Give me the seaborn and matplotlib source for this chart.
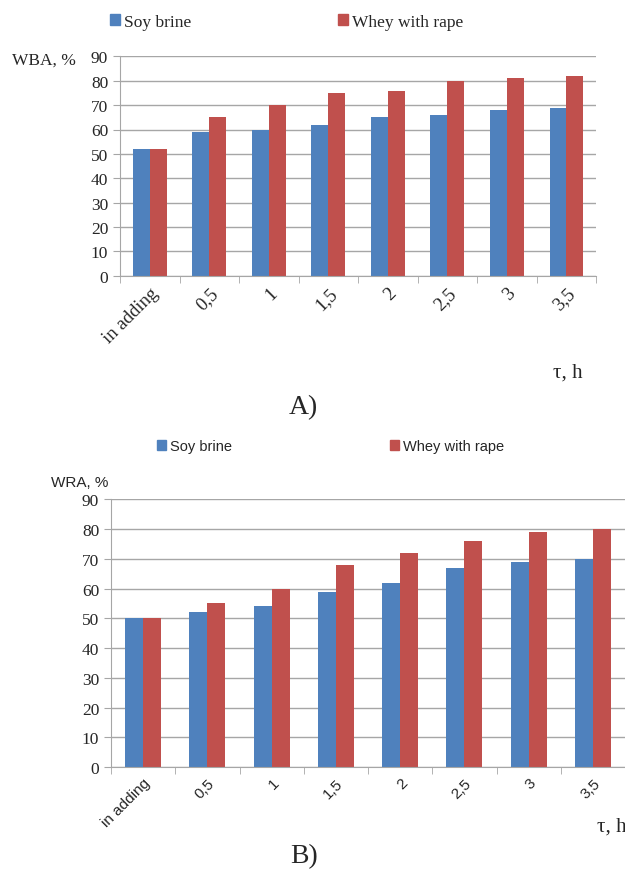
import numpy as np
import pandas as pd
import seaborn as sns
import matplotlib.pyplot as plt

sns.set_style("white")

# data
times = ["in adding", "0,5", "1", "1,5", "2", "2,5", "3", "3,5"]
wba_soy = [52, 59, 60, 62, 65, 66, 68, 69]
wba_whey = [52, 65, 70, 75, 76, 80, 81, 82]
wra_soy = [50, 52, 54, 59, 62, 67, 69, 70]
wra_whey = [50, 55, 60, 68, 72, 76, 79, 80]
series = ["Soy brine", "Whey with rape"]
colors = ["#4F81BD", "#C0504D"]

serif = "Liberation Serif"
sans = "Liberation Sans"


def long_df(soy, whey):
    return pd.DataFrame({
        "time": times * 2,
        "value": soy + whey,
        "series": [series[0]] * len(times) + [series[1]] * len(times),
    })


def style_axes(ax):
    ax.set_ylim(0, 90)
    ax.set_yticks(range(0, 91, 10))
    ax.set_xlim(-0.5, len(times) - 0.5)
    ax.yaxis.grid(True, color="#a6a6a6", linewidth=1)
    ax.set_axisbelow(True)
    for s in ["top", "right"]:
        ax.spines[s].set_visible(False)
    for s in ["left", "bottom"]:
        ax.spines[s].set_color("#a6a6a6")
    ax.set_xlabel("")
    ax.set_ylabel("")
    ax.set_xticks(np.arange(-0.5, len(times), 1), minor=True)
    ax.tick_params(axis="x", which="major", length=0, pad=6)
    ax.tick_params(axis="x", which="minor", length=5, color="#a6a6a6", direction="out", bottom=True)
    ax.tick_params(axis="y", length=5, color="#a6a6a6", direction="out", left=True)
    for lbl in ax.get_yticklabels():
        lbl.set_family(serif)
        lbl.set_fontsize(12.5)
    ax.set_xticks(range(len(times)))
    ax.set_xticklabels(times, rotation=45, ha="right", rotation_mode="anchor")
    if ax.get_legend() is not None:
        ax.get_legend().remove()


fig = plt.figure(figsize=(6.25, 8.7), dpi=100)
handles = [plt.Rectangle((0, 0), 1, 1, color=c) for c in colors]

# ---------- A) ----------
ax1 = fig.add_axes([0.192, 0.682, 0.762, 0.252])
sns.barplot(data=long_df(wba_soy, wba_whey), x="time", y="value", hue="series",
            palette=colors, width=0.57, saturation=1, linewidth=0, ax=ax1)
style_axes(ax1)
for lbl in ax1.get_xticklabels():
    lbl.set_family(serif)
    lbl.set_fontsize(13.5)
fig.legend(handles, series, loc="center left", bbox_to_anchor=(0.151, 0.974), ncol=2,
           frameon=False, handlelength=0.6, handleheight=0.6, handletextpad=0.2,
           columnspacing=8.45, prop={"family": serif, "size": 12.5})
fig.text(0.019, 0.930, "WBA, %", family=serif, fontsize=12.5, va="center")
fig.text(0.885, 0.571, "τ, h", family=serif, fontsize=15, va="center")
fig.text(0.485, 0.531, "A)", family=serif, fontsize=20, va="center", ha="center")

# ---------- B) ----------
ax2 = fig.add_axes([0.1776, 0.117, 0.8224, 0.308])
sns.barplot(data=long_df(wra_soy, wra_whey), x="time", y="value", hue="series",
            palette=colors, width=0.56, saturation=1, linewidth=0, ax=ax2)
style_axes(ax2)
for lbl in ax2.get_xticklabels():
    lbl.set_family(sans)
    lbl.set_fontsize(11)
fig.legend(handles, series, loc="center left", bbox_to_anchor=(0.2304, 0.486), ncol=2,
           frameon=False, handlelength=0.6, handleheight=0.6, handletextpad=0.3,
           columnspacing=10.8, prop={"family": sans, "size": 10.5})
fig.text(0.082, 0.445, "WRA, %", family=sans, fontsize=11, va="center")
fig.text(0.955, 0.049, "τ, h", family=serif, fontsize=15, va="center")
fig.text(0.486, 0.015, "B)", family=serif, fontsize=20, va="center", ha="center")

fig.savefig("out.png", dpi=100)
